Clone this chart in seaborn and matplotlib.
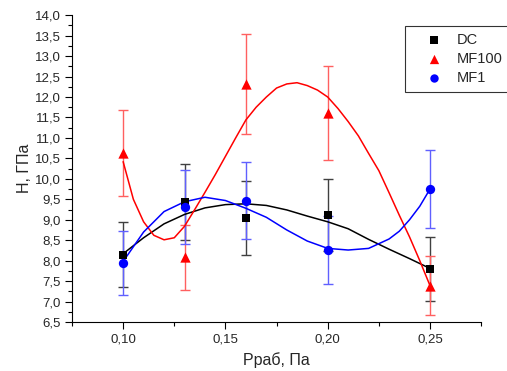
import numpy as np
import pandas as pd
import matplotlib
matplotlib.use("Agg")
import matplotlib.pyplot as plt
import seaborn as sns
from matplotlib.ticker import MultipleLocator, FuncFormatter

sns.set_style("ticks")
plt.rcParams['font.family'] = ['Liberation Sans', 'DejaVu Sans']

# measured points
pressure = [0.10, 0.13, 0.16, 0.20, 0.25]
dc_h = [8.15, 9.44, 9.04, 9.12, 7.80]
dc_err = [0.80, 0.93, 0.90, 0.88, 0.78]
mf100_h = [10.63, 8.08, 12.31, 11.62, 7.39]
mf100_err = [1.05, 0.80, 1.22, 1.15, 0.72]
mf1_h = [7.95, 9.31, 9.46, 8.26, 9.75]
mf1_err = [0.78, 0.90, 0.94, 0.82, 0.96]

# smooth curves
dc_curve_x = [0.10, 0.11, 0.12, 0.13, 0.14, 0.15, 0.16, 0.17, 0.18, 0.19,
              0.20, 0.21, 0.22, 0.23, 0.24, 0.25]
dc_curve_y = [8.17, 8.56, 8.90, 9.13, 9.29, 9.37, 9.39, 9.35, 9.24, 9.09,
              8.95, 8.78, 8.52, 8.28, 8.05, 7.81]

mf100_curve_x = [0.100, 0.105, 0.110, 0.115, 0.120, 0.125, 0.130, 0.135, 0.140,
                 0.145, 0.150, 0.155, 0.160, 0.165, 0.170, 0.175, 0.180, 0.185,
                 0.190, 0.195, 0.200, 0.205, 0.210, 0.215, 0.220, 0.225, 0.230,
                 0.235, 0.240, 0.245, 0.250]
mf100_curve_y = [10.42, 9.50, 8.95, 8.62, 8.51, 8.56, 8.84, 9.25, 9.67,
                 10.10, 10.55, 11.00, 11.44, 11.75, 12.00, 12.22, 12.32, 12.35,
                 12.28, 12.17, 12.00, 11.72, 11.40, 11.05, 10.62, 10.20, 9.66,
                 9.11, 8.58, 8.00, 7.39]

mf1_curve_x = [0.10, 0.11, 0.12, 0.13, 0.14, 0.15, 0.16, 0.17, 0.18, 0.19,
               0.20, 0.21, 0.22, 0.23, 0.235, 0.24, 0.245, 0.25]
mf1_curve_y = [7.98, 8.70, 9.20, 9.44, 9.55, 9.47, 9.28, 9.06, 8.75, 8.48,
               8.30, 8.26, 8.30, 8.53, 8.72, 9.00, 9.33, 9.75]

series = [
    ("DC", dc_h, dc_err, dc_curve_x, dc_curve_y, "black", "s", 36, "#404040"),
    ("MF100", mf100_h, mf100_err, mf100_curve_x, mf100_curve_y, "red", "^", 55, "#ff6060"),
    ("MF1", mf1_h, mf1_err, mf1_curve_x, mf1_curve_y, "blue", "o", 45, "#6060ff"),
]

fig = plt.figure(figsize=(5.07, 3.71), dpi=100)
ax = fig.add_axes([0.142, 0.132, 0.807, 0.827])

for name, h, err, cx, cy, col, mk, sz, ecol in series:
    sns.lineplot(x=cx, y=cy, color=col, lw=1.1, ax=ax, zorder=2, estimator=None, sort=False)
    ax.errorbar(pressure, h, yerr=err, fmt="none", ecolor=ecol, elinewidth=1,
                capsize=3.5, capthick=1, zorder=1)

for name, h, err, cx, cy, col, mk, sz, ecol in series:
    df = pd.DataFrame({"p": pressure, "h": h})
    sns.scatterplot(data=df, x="p", y="h", color=col, marker=mk, s=sz,
                    edgecolor=col, linewidth=0, ax=ax, zorder=3, label=name)

ax.set_xlim(0.075, 0.275)
ax.set_ylim(6.5, 14.0)
ax.xaxis.set_major_locator(MultipleLocator(0.05))
ax.xaxis.set_minor_locator(MultipleLocator(0.025))
ax.yaxis.set_major_locator(MultipleLocator(0.5))
ax.yaxis.set_minor_locator(MultipleLocator(0.25))
ax.xaxis.set_major_formatter(FuncFormatter(lambda v, p: f"{v:.2f}".replace(".", ",")))
ax.yaxis.set_major_formatter(FuncFormatter(lambda v, p: f"{v:.1f}".replace(".", ",")))
ax.tick_params(axis="both", which="major", length=5, width=0.8, labelsize=9.5,
               color="black", pad=3)
ax.tick_params(axis="both", which="minor", length=3, width=0.8, color="black")
for s in ["top", "right"]:
    ax.spines[s].set_visible(False)
for s in ["left", "bottom"]:
    ax.spines[s].set_color("black")
    ax.spines[s].set_linewidth(0.8)

ax.set_xlabel("Рраб, Па", fontsize=11.5, labelpad=5)
ax.set_ylabel("H, ГПа", fontsize=11.5, labelpad=2)

leg = ax.legend(loc="upper left", bbox_to_anchor=(405 / 507, 1 - 26 / 371),
                bbox_transform=fig.transFigure, frameon=True, fancybox=False,
                fontsize=10.5, handletextpad=0.05, borderpad=0.5, labelspacing=0.32,
                markerscale=0.9, handlelength=3.0, borderaxespad=0)
leg.get_frame().set_edgecolor("black")
leg.get_frame().set_linewidth(0.8)

fig.savefig("out.png", dpi=100)
